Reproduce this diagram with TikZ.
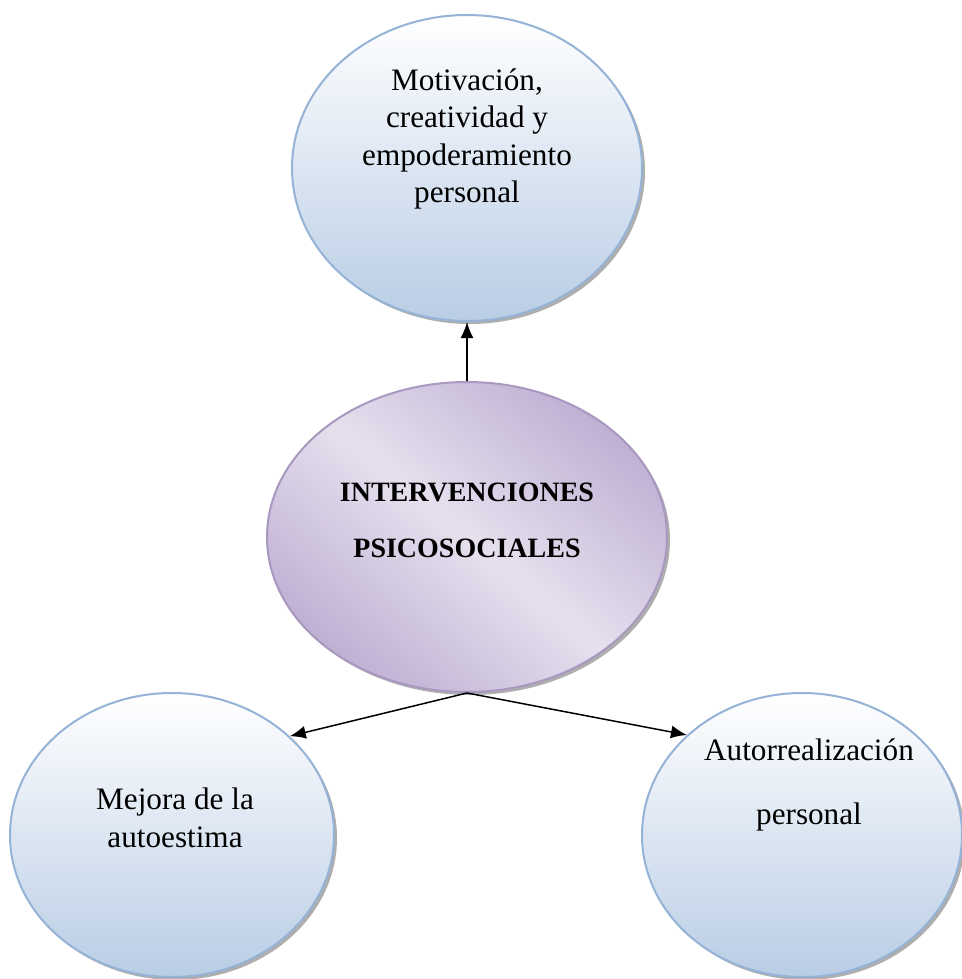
\documentclass[tikz,border=0pt]{standalone}
\usepackage{fontspec}
\setmainfont{Liberation Serif}
\usetikzlibrary{arrows.meta,shapes.geometric,shadows}

\definecolor{bubbleedge}{HTML}{95B3D7}
\definecolor{bubblefill}{HTML}{B9CDE5}
\definecolor{coreedge}{HTML}{A898C0}
\definecolor{coredark}{HTML}{BFB0D3}
\definecolor{corelight}{HTML}{E6E0EE}

\begin{document}
\begin{tikzpicture}[
  x=0.5pt,y=-0.5pt,
  bubble/.style={draw=bubbleedge,line width=1pt,ellipse,top color=white,bottom color=bubblefill,
    drop shadow={shadow xshift=1.5pt,shadow yshift=-1.5pt,fill=black!45,opacity=0.7}},
  core/.style={draw=coreedge,line width=1pt,ellipse,top color=coredark,bottom color=coredark,
    middle color=corelight,shading angle=-40,
    drop shadow={shadow xshift=1.5pt,shadow yshift=-1.5pt,fill=black!45,opacity=0.7}},
  txt/.style={align=center,inner sep=0pt,font=\fontsize{15.6}{18.75}\selectfont},
  link/.style={line width=0.75pt,-{Latex[length=8pt,width=6.5pt]}}
]
  \useasboundingbox (0,0) rectangle (962,979);

  \node[bubble,minimum width=175pt,minimum height=153pt] (motiv) at (467,168) {};
  \node[core,minimum width=200pt,minimum height=155pt] (psico) at (467,537) {};
  \node[bubble,minimum width=162pt,minimum height=142pt] (autoest) at (172,835) {};
  \node[bubble,minimum width=160pt,minimum height=142pt] (autorreal) at (802,835) {};

  \node[txt] (motivtxt) at (467,139) {Motivación,\\creatividad y\\empoderamiento\\personal};
  \node[txt,font=\fontsize{14}{28}\selectfont\bfseries] (psicotxt) at (467,520) {INTERVENCIONES\\PSICOSOCIALES};
  \node[txt] (autoesttxt) at (175,818) {Mejora de la\\autoestima};
  \node[txt,font=\fontsize{15.6}{32}\selectfont] (autorrealtxt) at (809,785) {Autorrealización\\personal};

  \draw[link] (psico.north) -- (motiv.south);
  \draw[link] (psico.south) -- (autoest.40);
  \draw[link] (psico.south) -- (autorreal.139);
\end{tikzpicture}
\end{document}
